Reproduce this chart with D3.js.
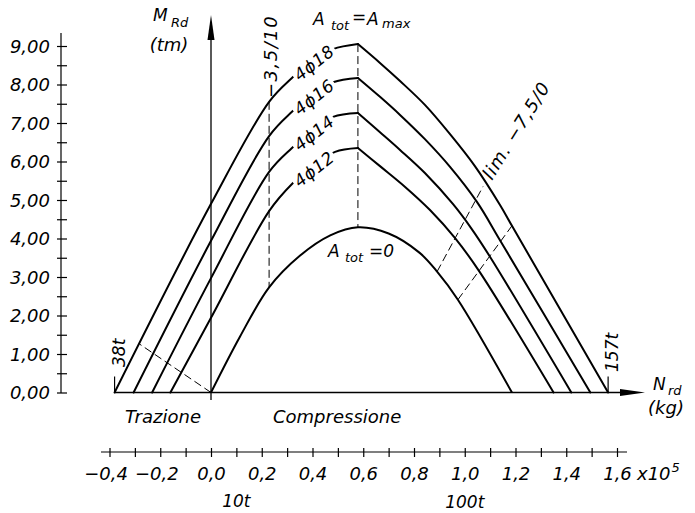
<!DOCTYPE html>
<html><head><meta charset="utf-8">
<script src="https://cdn.jsdelivr.net/npm/d3@7"></script>
<style>
body{margin:0;background:#fff;}
svg text{font-family:"DejaVu Sans",sans-serif;font-style:italic;fill:#000;}
</style></head><body>
<svg id="c" width="695" height="513"></svg>
<script>
// ---------- data (N in 1e5 kg, M in tm) ----------
const c18 = [[-0.38,0],[0,4.90],[0.229,7.55],[0.319,8.17],[0.402,8.64],[0.481,8.92],[0.579,9.05],
             [0.666,8.56],[0.745,8.09],[0.843,7.47],[0.942,6.71],[1.040,5.88],[1.139,4.87],[1.186,4.33],[1.565,0]];
const c16 = [[-0.305,0],[0,3.94],[0.229,6.66],[0.319,7.29],[0.402,7.75],[0.481,8.06],[0.579,8.17],
             [0.666,7.68],[0.745,7.21],[0.843,6.58],[0.942,5.86],[1.048,4.95],[1.143,3.91],[1.495,0]];
const c14 = [[-0.232,0],[0,2.97],[0.229,5.73],[0.319,6.35],[0.402,6.82],[0.481,7.16],[0.579,7.26],
             [0.666,6.76],[0.745,6.30],[0.843,5.70],[0.954,4.89],[1.025,4.27],[1.100,3.52],[1.42,0]];
const c12 = [[-0.16,0],[0,1.94],[0.229,4.71],[0.323,5.44],[0.402,5.88],[0.489,6.25],[0.579,6.35],
             [0.666,5.88],[0.765,5.34],[0.863,4.74],[0.962,4.01],[1.056,3.16],[1.35,0]];
const c0  = [[0,0],[0.114,1.45],[0.229,2.73],[0.35,3.55],[0.47,4.08],[0.579,4.29],[0.70,4.13],
             [0.82,3.64],[0.891,3.14],[0.973,2.41],[1.186,0]];
const steelLabels = ["4\u03D518","4\u03D516","4\u03D514","4\u03D512"];
const limLineA = [[0.891,3.14],[1.072,5.35]];
const limLineB = [[0.973,2.41],[1.186,4.33]];
const tensionLine = [[0,0],[-0.282,1.26]];
const nSplit = 0.229, nPeak = 0.579, nLabel = 0.402;
const nTension = -0.38, nComp = 1.565;
const yTicks = [0,0.5,1,1.5,2,2.5,3,3.5,4,4.5,5,5.5,6,6.5,7,7.5,8,8.5,9];
const yLabels = ["0,00","1,00","2,00","3,00","4,00","5,00","6,00","7,00","8,00","9,00"];
const xTicks = [-0.4,-0.3,-0.2,-0.1,0,0.1,0.2,0.3,0.4,0.5,0.6,0.7,0.8,0.9,1.0,1.1,1.2,1.3,1.4,1.5,1.6];
const xLabelValues = [-0.4,-0.2,0,0.2,0.4,0.6,0.8,1.0,1.2,1.4,1.6];
const xLabels = ["\u22120,4","\u22120,2","0,0","0,2","0,4","0,6","0,8","1,0","1,2","1,4","1,6"];

// ---------- scales ----------
const x = d3.scaleLinear().domain([0,1]).range([211,464.75]);
const y = d3.scaleLinear().domain([0,9]).range([392.5,46]);
const svg = d3.select("#c");

// ---------- left M scale ----------
const ya = svg.append("g").attr("transform","translate(61,0)")
  .call(d3.axisLeft(y).tickValues(yTicks).tickSize(0)
    .tickFormat(d => Number.isInteger(d) ? yLabels[d] : ""));
ya.select(".domain").remove();
ya.append("line").attr("x1",0).attr("x2",0).attr("y1",33).attr("y2",393).attr("stroke","#000").attr("stroke-width",1.2);
ya.selectAll(".tick line").attr("x1",-4).attr("x2",6).attr("stroke","#000").attr("stroke-width",1.2);
ya.selectAll(".tick text").attr("x",-11).attr("dy","0.36em")
  .style("font-size","18px").style("font-family","DejaVu Sans").style("font-style","italic");

// ---------- bottom N scale ----------
const xa = svg.append("g").attr("transform","translate(0,452)")
  .call(d3.axisBottom(x).tickValues(xTicks).tickSize(0)
    .tickFormat(d => { const i = xLabelValues.findIndex(v => Math.abs(v-d)<1e-9); return i>=0 ? xLabels[i] : ""; }));
xa.select(".domain").remove();
xa.append("line").attr("x1",101).attr("x2",627).attr("y1",0).attr("y2",0).attr("stroke","#000").attr("stroke-width",1.2);
xa.selectAll(".tick line").attr("y1",-4).attr("y2",5).attr("stroke","#000").attr("stroke-width",1.2);
xa.selectAll(".tick text").attr("y",28).attr("dy",0)
  .attr("dx", d => d<0 ? -4 : 0)
  .style("font-size","18px").style("font-family","DejaVu Sans").style("font-style","italic");

// ---------- main axes ----------
const y0 = y(0), x0 = x(0);
svg.append("line").attr("x1",x(nTension)).attr("x2",630).attr("y1",y0).attr("y2",y0).attr("stroke","#000").attr("stroke-width",1.3);
svg.append("path").attr("d",`M645,${y0} L620,${y0-3.5} L620,${y0+3.5} Z`).attr("fill","#000");
svg.append("line").attr("x1",x0).attr("x2",x0).attr("y1",400).attr("y2",30).attr("stroke","#000").attr("stroke-width",1.3);
svg.append("path").attr("d",`M${x0},15 L${x0-3.5},40 L${x0+3.5},40 Z`).attr("fill","#000");
[nTension,nComp].forEach(n => svg.append("line").attr("x1",x(n)).attr("x2",x(n)).attr("y1",y0-16).attr("y2",y0).attr("stroke","#000").attr("stroke-width",1.2));

// ---------- curves ----------
const line = d3.line().x(d=>x(d[0])).y(d=>y(d[1])).curve(d3.curveCatmullRom.alpha(0.5));
const steel = [c18,c16,c14,c12];
steel.forEach(c => {
  const p = c.findIndex(d => d[0]===nPeak);
  [c.slice(0,p+1), c.slice(p)].forEach(part =>
    svg.append("path").attr("d",line(part)).attr("fill","none").attr("stroke","#000")
      .attr("stroke-width",2).attr("stroke-linecap","round").attr("stroke-linejoin","round"));
});
svg.append("path").attr("d",line(c0)).attr("fill","none").attr("stroke","#000").attr("stroke-width",2);

// ---------- dashed lines ----------
const dash = (pts) => svg.append("line")
  .attr("x1",x(pts[0][0])).attr("y1",y(pts[0][1])).attr("x2",x(pts[1][0])).attr("y2",y(pts[1][1]))
  .attr("stroke","#000").attr("stroke-width",1).attr("stroke-dasharray","8,4");
const at = (c,n) => c.find(d => d[0]===n);
dash([at(c18,nSplit), at(c0,nSplit)]);
dash([at(c18,nPeak), at(c0,nPeak)]);
dash(limLineA); dash(limLineB); dash(tensionLine);

// ---------- curve labels ----------
steel.forEach((c,i) => {
  const pt = at(c,nLabel);
  const g = svg.append("g").attr("transform",`translate(${x(pt[0])+1},${y(pt[1])+3}) rotate(-38)`);
  const r = g.append("rect").attr("fill","#fff");
  const t = g.append("text").attr("text-anchor","middle").attr("dy","0.36em")
    .style("font-size","17px").style("letter-spacing","0.5px").text(steelLabels[i]);
  const len = t.node().getComputedTextLength();
  r.attr("x",-len/2-2).attr("y",-8).attr("width",len+4).attr("height",16);
});

// ---------- texts ----------
const txt = (s,xx,yy,size,anchor="start",tr=null) => {
  const t = svg.append("text").attr("x",xx).attr("y",yy).style("font-size",size+"px")
    .attr("text-anchor",anchor).text(s);
  if (tr) t.attr("transform",tr);
  return t;
};
txt("M",153,21,17); txt("Rd",171,27,13);
txt("(tm)",169,51,18,"middle");
txt("A",313,25,17); txt("tot",331,30,13); txt("=",352,23,17); txt("A",367,25,17); txt("max",382,28,13);
txt("A",328,257,17); txt("tot",345,262,13); txt("=0",369,257,17);
txt("\u22123,5/10",0,0,18,"start",`translate(277,98) rotate(-90)`).style("letter-spacing","1.5px");
txt("lim.  \u22127,5/0",0,0,18,"start",`translate(492,181) rotate(-58)`).style("letter-spacing","1px");
txt("38t",0,0,17,"start",`translate(125,367) rotate(-90)`);
txt("157t",0,0,17,"start",`translate(618,372) rotate(-90)`);
txt("N",653,390,17); txt("rd",668,395,13);
txt("(kg)",666,414,18,"middle");
txt("Trazione",125,423,18);
txt("Compressione",273,423,18);
txt("10t",x(0.1),507,17,"middle");
txt("100t",x(1.0),508,17,"middle");
const xt = txt("x10",637,480,18);
xt.append("tspan").attr("dy",-8).attr("dx",1).style("font-size","13px").text("5");
</script>
</body></html>
